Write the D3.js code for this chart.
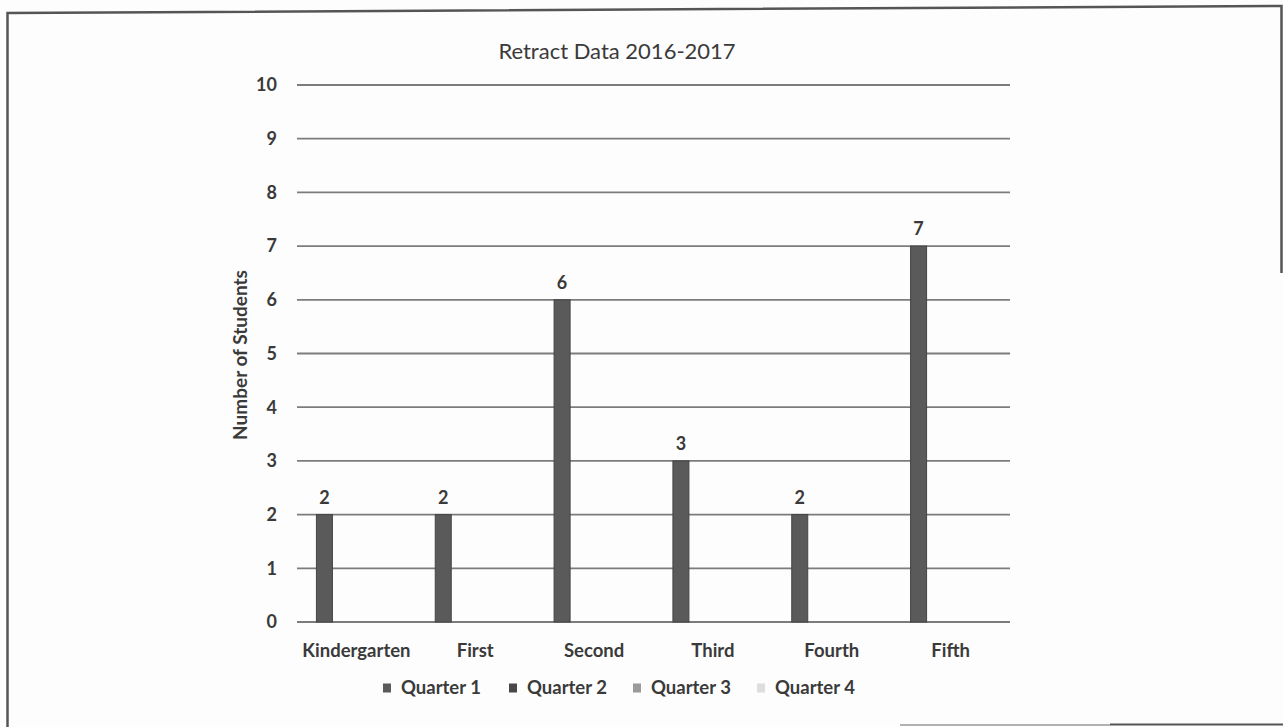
<!DOCTYPE html>
<html>
<head>
<meta charset="utf-8">
<script src="https://cdn.jsdelivr.net/npm/d3@7"></script>
<style>
  html, body { margin: 0; padding: 0; background: #fdfdfd; }
  svg { display: block; }
  text { font-family: Lato, "Open Sans", sans-serif; fill: #3a3a3a; }
</style>
</head>
<body>
<svg id="chart" width="1283" height="727"></svg>
<script>
const categories = ["Kindergarten", "First", "Second", "Third", "Fourth", "Fifth"];
const seriesNames = ["Quarter 1", "Quarter 2", "Quarter 3", "Quarter 4"];
const quarter1 = [2, 2, 6, 3, 2, 7];
const quarter2 = [0, 0, 0, 0, 0, 0];
const quarter3 = [0, 0, 0, 0, 0, 0];
const quarter4 = [0, 0, 0, 0, 0, 0];
const yTicks = [0, 1, 2, 3, 4, 5, 6, 7, 8, 9, 10];
const seriesColors = ["#5a5a5a", "#484848", "#9a9a9a", "#dedede"];
const title = "Retract Data 2016-2017";
const yTitle = "Number of Students";

const seriesValues = [quarter1, quarter2, quarter3, quarter4];

const svg = d3.select("#chart");

// frame (scanned page border)
svg.append("path")
  .attr("d", "M7.5,727 L7.5,13 L1281.5,6 L1281.5,273")
  .attr("fill", "none").attr("stroke", "#555").attr("stroke-width", 2.5);
svg.append("line").attr("x1", 900).attr("x2", 1110).attr("y1", 725).attr("y2", 725)
  .attr("stroke", "#999").attr("stroke-width", 1.5);
svg.append("line").attr("x1", 1110).attr("x2", 1283).attr("y1", 724.5).attr("y2", 724.5)
  .attr("stroke", "#555").attr("stroke-width", 2);

const x0 = d3.scaleBand().domain(categories).range([297, 1010]).paddingInner(0).paddingOuter(0);
const x1 = d3.scaleBand().domain(seriesNames).range([0, x0.bandwidth()]).paddingInner(0.25).paddingOuter(0.91);
const y = d3.scaleLinear().domain([0, 10]).range([622, 85]);

// gridlines
svg.append("g").selectAll("line").data(yTicks).join("line")
  .attr("x1", 297).attr("x2", 1010)
  .attr("y1", d => y(d)).attr("y2", d => y(d))
  .attr("stroke", "#7c7c7c").attr("stroke-width", 1.8);

// y tick labels
svg.append("g").selectAll("text").data(yTicks).join("text")
  .attr("x", 277).attr("y", d => y(d)).attr("dy", "0.35em")
  .attr("text-anchor", "end").attr("font-size", 18).attr("font-weight", 700)
  .text(d => d);

// bars
const rows = [];
seriesNames.forEach((s, si) => {
  categories.forEach((c, ci) => rows.push({ s, si, c, v: seriesValues[si][ci] }));
});
svg.append("g").selectAll("rect").data(rows.filter(d => d.v > 0)).join("rect")
  .attr("x", d => x0(d.c) + x1(d.s))
  .attr("y", d => y(d.v))
  .attr("width", x1.bandwidth())
  .attr("height", d => y(0) - y(d.v))
  .attr("fill", d => seriesColors[d.si])
  .attr("stroke", "#444").attr("stroke-width", 1);

// value labels
svg.append("g").selectAll("text").data(rows.filter(d => d.v > 0)).join("text")
  .attr("x", d => x0(d.c) + x1(d.s) + x1.bandwidth() / 2)
  .attr("y", d => y(d.v) - 11)
  .attr("text-anchor", "middle").attr("font-size", 18).attr("font-weight", 700)
  .text(d => d.v);

// category labels
svg.append("g").selectAll("text").data(categories).join("text")
  .attr("x", d => x0(d) + x0.bandwidth() / 2)
  .attr("y", 657)
  .attr("text-anchor", "middle").attr("font-size", 18.5).attr("font-weight", 700)
  .text(d => d);

// title
svg.append("text").attr("x", 617).attr("y", 59).attr("text-anchor", "middle")
  .attr("font-size", 22).text(title);

// y axis title
svg.append("text").attr("transform", "translate(247,355) rotate(-90)")
  .attr("text-anchor", "middle").attr("font-size", 19).attr("font-weight", 700)
  .text(yTitle);

// legend
const legendX = d3.scaleOrdinal().domain(seriesNames).range([383, 509, 633, 757]);
const lg = svg.append("g").selectAll("g").data(seriesNames).join("g")
  .attr("transform", d => `translate(${legendX(d)},688)`);
lg.append("rect").attr("x", 0).attr("y", -4.5).attr("width", 8).attr("height", 9)
  .attr("fill", (d, i) => seriesColors[i]);
lg.append("text").attr("x", 18).attr("y", 0).attr("dy", "0.35em")
  .attr("font-size", 18.5).attr("font-weight", 700).text(d => d);
</script>
</body>
</html>
